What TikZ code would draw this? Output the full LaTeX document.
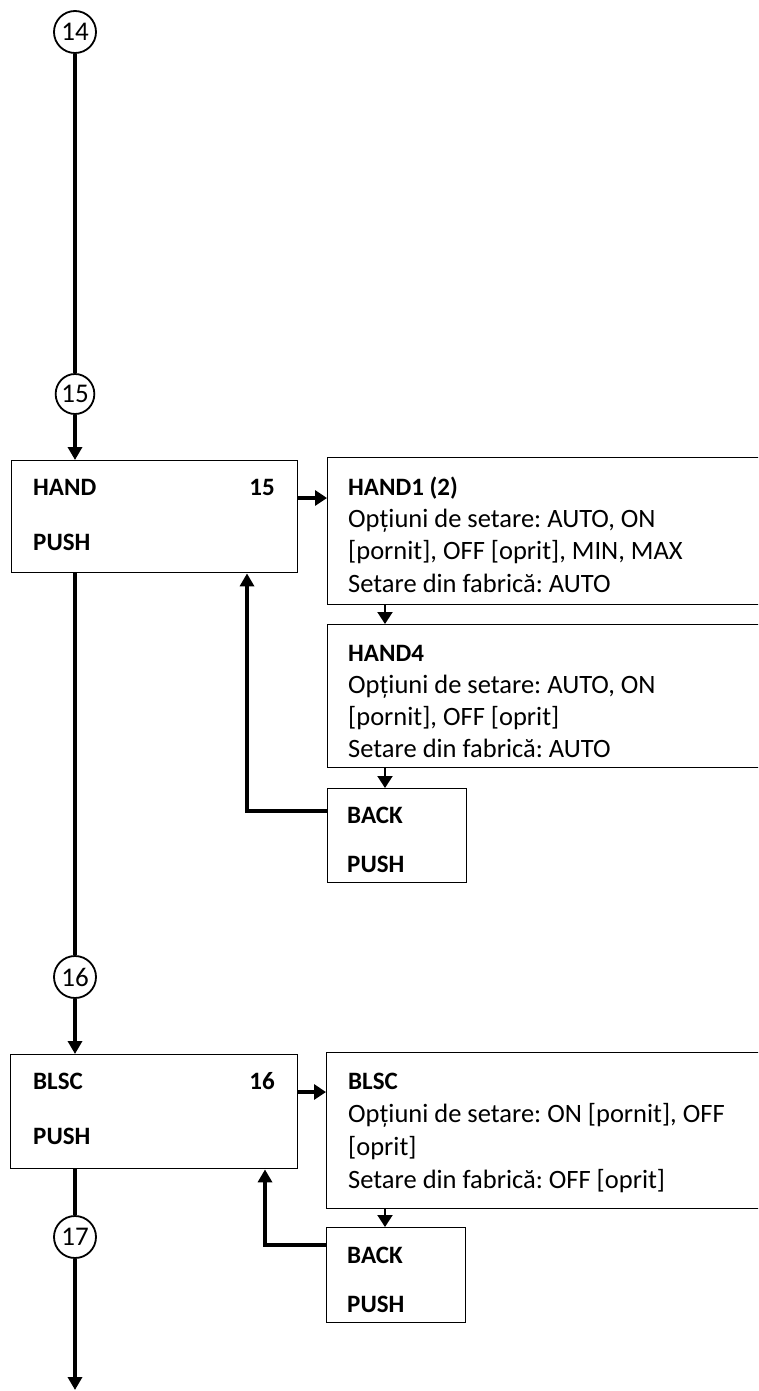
\documentclass[tikz,border=0pt]{standalone}
\usepackage{fontspec}
\setmainfont{Carlito}
\usetikzlibrary{arrows.meta,shapes.geometric}
\frenchspacing
\begin{document}
\begin{tikzpicture}[x=1pt,y=-1pt,
  box/.style={draw,line width=1.4pt,rectangle,inner sep=0pt,anchor=north west},
  circ/.style={draw,circle,line width=1.8pt,inner sep=0pt,minimum size=42pt,font=\fontsize{27}{27}\selectfont},
  ell/.style={draw,ellipse,line width=1.8pt,inner sep=0pt,minimum width=36pt,minimum height=40pt,font=\fontsize{27}{27}\selectfont},
  txt/.style={anchor=base west,inner sep=0pt,font=\fontsize{26.5}{30}\selectfont},
  txtb/.style={anchor=base west,inner sep=0pt,font=\fontsize{25}{30}\selectfont\bfseries},
  txtr/.style={anchor=base east,inner sep=0pt,font=\fontsize{25}{30}\selectfont\bfseries},
  conn/.style={line width=3.5pt},
  thinconn/.style={line width=2pt},
  arr/.style={-{Triangle[length=13pt,width=14pt]}},
  sarr/.style={-{Triangle[length=12pt,width=15pt]}}
]
\useasboundingbox (0,0) rectangle (758,1391);
\clip (0,0) rectangle (758,1391);

% circles
\node[circ] (c14) at (75,32) {14};
\node[ell] (c15) at (75,394) {15};
\node[circ] (c16) at (75,977) {16};
\node[circ] (c17) at (75,1237) {17};

% boxes
\node[box,minimum width=286pt,minimum height=112pt] (hand) at (11,460) {};
\node[box,minimum width=443pt,minimum height=147pt] (hand1) at (327,457) {};
\node[box,minimum width=443pt,minimum height=143pt] (hand4) at (327,624) {};
\node[box,minimum width=139pt,minimum height=94pt] (back1) at (327,788) {};
\node[box,minimum width=287pt,minimum height=114pt] (blsc) at (10,1054) {};
\node[box,minimum width=444pt,minimum height=156pt] (blscinfo) at (326,1052) {};
\node[box,minimum width=139pt,minimum height=95pt] (back2) at (326,1227) {};

% texts
\node[txtb] (t1) at (33,495) {HAND};
\node[txtr] (t2) at (275,495) {15};
\node[txtb] (t3) at (33,550) {PUSH};

\node[txtb] (t4) at (348,495) {HAND1 (2)};
\node[txt] (t5) at (348,527) {Opțiuni de setare: AUTO, ON};
\node[txt] (t6) at (348,559.5) {[pornit], OFF [oprit], MIN, MAX};
\node[txt] (t7) at (348,592) {Setare din fabrică: AUTO};

\node[txtb] (t8) at (348,661) {HAND4};
\node[txt] (t9) at (348,693) {Opțiuni de setare: AUTO, ON};
\node[txt] (t10) at (348,725) {[pornit], OFF [oprit]};
\node[txt] (t11) at (348,757) {Setare din fabrică: AUTO};

\node[txtb] (t12) at (347,823) {BACK};
\node[txtb] (t13) at (347,872) {PUSH};

\node[txtb] (t14) at (33,1089) {BLSC};
\node[txtr] (t15) at (275,1089) {16};
\node[txtb] (t16) at (33,1144) {PUSH};

\node[txtb] (t17) at (348,1089) {BLSC};
\node[txt] (t18) at (348,1122) {Opțiuni de setare: ON [pornit], OFF};
\node[txt] (t19) at (348,1155) {[oprit]};
\node[txt] (t20) at (348,1188) {Setare din fabrică: OFF [oprit]};

\node[txtb] (t21) at (347,1263) {BACK};
\node[txtb] (t22) at (347,1312) {PUSH};

% helper coordinates
\coordinate (ya) at (0,498);
\coordinate (yb) at (0,1092);
\coordinate (xa) at (385,0);
\coordinate (r1) at (247,811);
\coordinate (r2) at (265,1245);
\coordinate (endpt) at (75,1390);

% main flow
\draw[conn] (c14) -- (c15);
\draw[conn,arr] (c15) -- (c15 |- hand.north);
\draw[conn] (c15 |- hand.south) -- (c16);
\draw[conn,arr] (c16) -- (c16 |- blsc.north);
\draw[conn] (c16 |- blsc.south) -- (c17);
\draw[conn,arr] (c17) -- (endpt);

% HAND branch
\draw[conn,sarr] (hand.east |- ya) -- (hand1.west |- ya);
\draw[thinconn,sarr] (hand1.south -| xa) -- (hand4.north -| xa);
\draw[thinconn,sarr] (hand4.south -| xa) -- (back1.north -| xa);
\draw[conn,arr] (back1.west |- r1) -| (hand.south -| r1);

% BLSC branch
\draw[conn,sarr] (blsc.east |- yb) -- (blscinfo.west |- yb);
\draw[thinconn,sarr] (blscinfo.south -| xa) -- (back2.north -| xa);
\draw[conn,arr] (back2.west |- r2) -| (blsc.south -| r2);
\end{tikzpicture}
\end{document}
